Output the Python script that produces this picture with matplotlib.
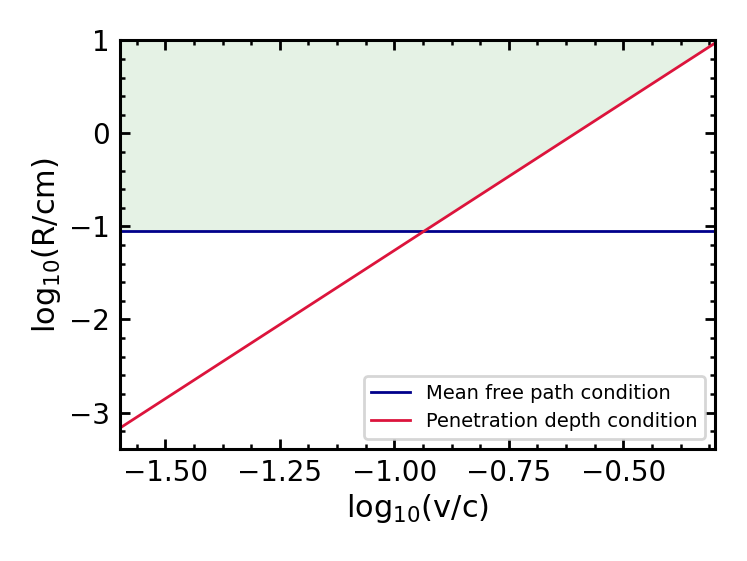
import numpy as np
import matplotlib
matplotlib.use("Agg")
import matplotlib.pyplot as plt
from matplotlib.ticker import AutoMinorLocator

# ── Data ─────────────────────────────────────────────────────────────────────
log_v = np.array([-1.60, -0.936, -0.30])        # log10(v/c), incl. crossing point
log_R_pen = np.array([-3.17, -1.054, 0.97])     # penetration depth condition
log_R_mfp = np.array([-1.054, -1.054, -1.054])  # mean free path condition
y_top = 1.0

C_BLUE = "#00008b"
C_RED = "#dc143c"

fig, ax = plt.subplots(figsize=(3.735, 2.805), dpi=200)
fig.patch.set_facecolor("white")

ax.fill_between(log_v, np.maximum(log_R_mfp, log_R_pen), y_top,
                color="green", alpha=0.1, linewidth=0)
ax.plot(log_v, log_R_mfp, color=C_BLUE, linewidth=1.0, label="Mean free path condition")
ax.plot(log_v, log_R_pen, color=C_RED, linewidth=1.0, label="Penetration depth condition")

ax.set_xlim(-1.60, -0.30)
ax.set_ylim(-3.39, 1.0)
ax.set_xticks([-1.5, -1.25, -1.0, -0.75, -0.5])
ax.set_yticks([-3, -2, -1, 0, 1])
ax.xaxis.set_minor_locator(AutoMinorLocator(4))
ax.yaxis.set_minor_locator(AutoMinorLocator(5))
ax.tick_params(which="both", direction="in", top=True, right=True, labelsize=10)
ax.tick_params(which="major", length=3.5, width=1.0)
ax.tick_params(which="minor", length=1.8, width=0.9)
for s in ax.spines.values():
    s.set_linewidth(1.1)

ax.set_xlabel(r"log$_{10}$(v/c)", fontsize=11, labelpad=2)
ax.set_ylabel(r"log$_{10}$(R/cm)", fontsize=11, labelpad=2)
ax.legend(loc="lower right", fontsize=7, framealpha=0.8)

fig.subplots_adjust(left=0.16, right=0.957, top=0.928, bottom=0.2)
plt.savefig("out.png", dpi=200, facecolor="white")
